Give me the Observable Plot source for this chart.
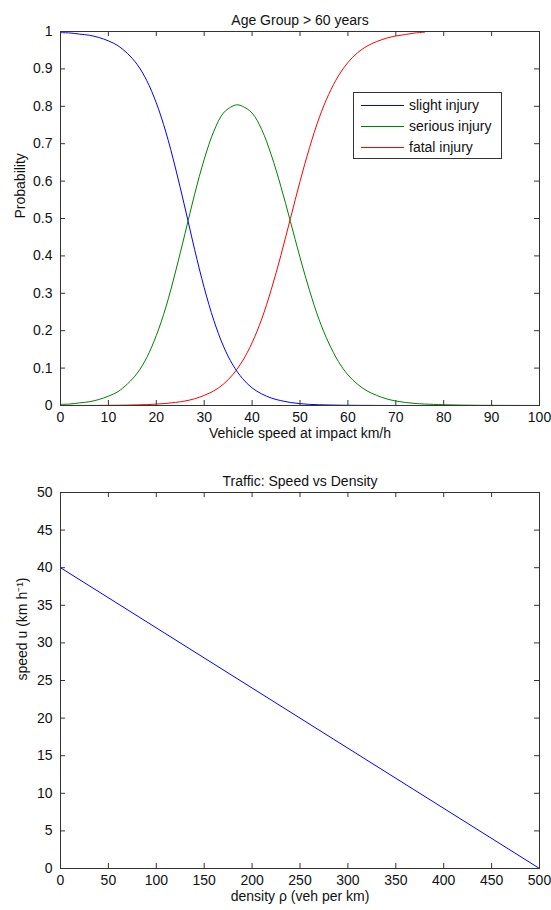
<!DOCTYPE html>
<html>
<head>
<meta charset="utf-8">
<script src="https://cdn.jsdelivr.net/npm/d3@7"></script>
<script src="https://cdn.jsdelivr.net/npm/@observablehq/plot@0.6"></script>
<style>
  html, body { margin: 0; padding: 0; background: #fff; }
  #chart svg { display: block; }
</style>
</head>
<body>
<div id="chart"></div>
<script>
// ---------- Data: top panel ----------
const topTitle = "Age Group > 60 years";
const topXLabel = "Vehicle speed at impact km/h";
const topYLabel = "Probability";
const seriesNames = ["slight injury", "serious injury", "fatal injury"];
const seriesColors = ["#0000ff", "#008000", "#ff0000"];

const speed = [0,2,4,6,8,10,12,14,16,18,20,22,24,26,28,30,32,34,36,38,40,42,44,46,48,50,52,54,56,58,60,62,64,66,68,70,72,74,76];
const slight = [0.997,0.996,0.993,0.990,0.984,0.975,0.962,0.941,0.912,0.869,0.809,0.731,0.635,0.528,0.417,0.315,0.228,0.159,0.108,0.072,0.047,0.031,0.020,0.013,0.008,0.005,0.003,0.002,0.0014,0.0009,0.0006,0.0004,0.0003,0.0002,0.0001,0.0001,0.0001,0,0];
const fatal = [0.0001,0.0001,0.0002,0.0002,0.0003,0.0005,0.0007,0.0011,0.0017,0.0025,0.0037,0.0055,0.0082,0.012,0.018,0.027,0.039,0.057,0.083,0.119,0.168,0.231,0.310,0.401,0.500,0.599,0.690,0.769,0.832,0.881,0.917,0.943,0.961,0.973,0.982,0.988,0.992,0.996,0.998];
const seriousSpeed = [0,2,4,6,8,10,12,14,16,18,20,22,24,26,28,30,32,34,36,37,38,40,42,44,46,48,50,52,54,56,58,60,62,64,66,68,70,72,74,76,80,84,88,92,96,100];
const serious = [0.003,0.004,0.007,0.010,0.016,0.025,0.037,0.058,0.086,0.128,0.187,0.263,0.357,0.460,0.565,0.658,0.733,0.782,0.801,0.804,0.800,0.782,0.738,0.670,0.586,0.492,0.396,0.307,0.229,0.167,0.118,0.082,0.057,0.039,0.027,0.018,0.012,0.008,0.0055,0.004,0.002,0.001,0.0005,0.0003,0.0002,0.0001];

const topXTicks = [0,10,20,30,40,50,60,70,80,90,100];
const topYTicks = [0,0.1,0.2,0.3,0.4,0.5,0.6,0.7,0.8,0.9,1];

// ---------- Data: bottom panel ----------
const botTitle = "Traffic: Speed vs Density";
const botXLabel = "density \u03c1 (veh per km)";
const botYLabel = "speed u (km h\u207b\u00b9)";
const density = [0, 500];
const trafficSpeed = [40, 0];
const botXTicks = [0,50,100,150,200,250,300,350,400,450,500];
const botYTicks = [0,5,10,15,20,25,30,35,40,45,50];

// ---------- Build tables ----------
const topRows = [];
speed.forEach((s, i) => topRows.push({speed: s, p: slight[i], series: seriesNames[0]}));
seriousSpeed.forEach((s, i) => topRows.push({speed: s, p: serious[i], series: seriesNames[1]}));
speed.forEach((s, i) => topRows.push({speed: s, p: fatal[i], series: seriesNames[2]}));
const botRows = density.map((d, i) => ({density: d, speed: trafficSpeed[i]}));

const W = 551;
const FONT = "'Liberation Sans', Arial, Helvetica, sans-serif";
const AXIS = "#333";

function panel({x, y, xDomain, yDomain, xTicks, yTicks, title, xLabel, yLabel, m, yLabelDx, lineMarks}) {
  const H = 455;
  const fw = W - m.left - m.right;
  const fh = H - m.top - m.bottom;
  const fmt = d3.format("~g");
  return Plot.plot({
    width: W, height: H,
    marginTop: m.top, marginBottom: m.bottom, marginLeft: m.left, marginRight: m.right,
    style: {fontFamily: FONT, fontSize: "14px", color: "#111", background: "#fff"},
    x: {domain: xDomain},
    y: {domain: yDomain},
    marks: [
      ...lineMarks,
      Plot.frame({stroke: AXIS, strokeWidth: 1}),
      Plot.ruleX(xTicks, {x: d => d, insetTop: fh - 5, stroke: AXIS}),
      Plot.ruleX(xTicks, {x: d => d, insetBottom: fh - 5, stroke: AXIS}),
      Plot.ruleY(yTicks, {y: d => d, insetRight: fw - 5, stroke: AXIS}),
      Plot.ruleY(yTicks, {y: d => d, insetLeft: fw - 5, stroke: AXIS}),
      Plot.axisX({ticks: xTicks, tickSize: 0, tickPadding: 7, tickFormat: fmt, label: null, fontSize: 14, fill: "#111"}),
      Plot.axisY({ticks: yTicks, tickSize: 0, tickPadding: 8, tickFormat: fmt, label: null, fontSize: 14, fill: "#111"}),
      Plot.text([title], {text: d => d, frameAnchor: "top", dy: -16, fontSize: 14, fill: "#111"}),
      Plot.text([xLabel], {text: d => d, frameAnchor: "bottom", dy: 32, fontSize: 14, fill: "#111"}),
      Plot.text([yLabel], {text: d => d, frameAnchor: "left", dx: yLabelDx, rotate: -90, fontSize: 14, fill: "#111"})
    ]
  });
}

const topPlot = panel({
  xDomain: [0, 100], yDomain: [0, 1],
  xTicks: topXTicks, yTicks: topYTicks,
  title: topTitle, xLabel: topXLabel, yLabel: topYLabel,
  m: {top: 31, bottom: 50, left: 60, right: 12},
  yLabelDx: -40,
  lineMarks: [
    Plot.line(topRows, {x: "speed", y: "p", z: "series",
      stroke: d => seriesColors[seriesNames.indexOf(d.series)],
      strokeWidth: 1, curve: "catmull-rom"})
  ]
});

const botPlot = panel({
  xDomain: [0, 500], yDomain: [0, 50],
  xTicks: botXTicks, yTicks: botYTicks,
  title: botTitle, xLabel: botXLabel, yLabel: botYLabel,
  m: {top: 37, bottom: 42, left: 60, right: 12},
  yLabelDx: -38,
  lineMarks: [
    Plot.line(botRows, {x: "density", y: "speed", stroke: seriesColors[0], strokeWidth: 1})
  ]
});

// ---------- Legend inside top panel ----------
{
  const svg = d3.select(topPlot);
  const g = svg.append("g").attr("font-family", FONT).attr("font-size", 14).attr("text-anchor", "start");
  g.append("rect").attr("x", 353.5).attr("y", 92.5).attr("width", 148).attr("height", 66)
    .attr("fill", "#fff").attr("stroke", AXIS).attr("stroke-width", 1);
  seriesNames.forEach((name, i) => {
    const yy = 105.5 + i * 21;
    g.append("line").attr("x1", 361).attr("x2", 404).attr("y1", yy).attr("y2", yy)
      .attr("stroke", seriesColors[i]).attr("stroke-width", 1);
    g.append("text").attr("x", 409).attr("y", yy).attr("dy", "0.35em")
      .attr("text-anchor", "start").attr("fill", "#111").text(name);
  });
}

document.getElementById("chart").append(topPlot, botPlot);
</script>
</body>
</html>
